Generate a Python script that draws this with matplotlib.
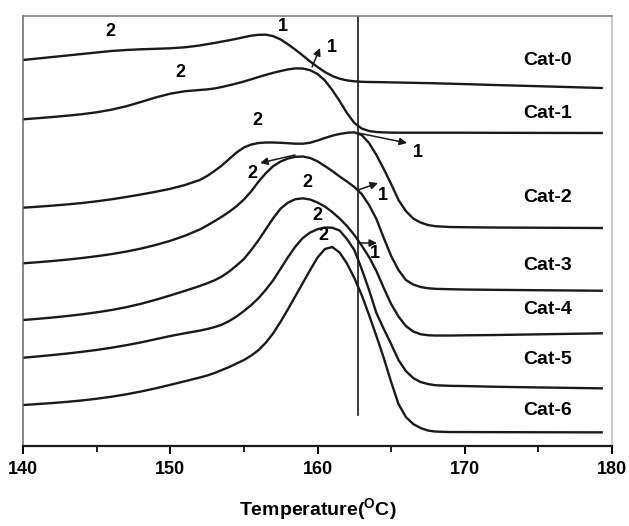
import matplotlib
matplotlib.use('Agg')
import matplotlib.pyplot as plt
from matplotlib.ticker import MultipleLocator

plt.rcParams['font.family'] = ['Liberation Sans', 'DejaVu Sans']
plt.rcParams['font.weight'] = 'bold'
plt.rcParams['mathtext.fontset'] = 'custom'
plt.rcParams['mathtext.rm'] = 'Liberation Sans:bold'
plt.rcParams['mathtext.bf'] = 'Liberation Sans:bold'

# temperature grid (deg C)
temp = [140, 141, 142, 143, 144, 145, 146, 147, 148, 149, 150, 151,
        152, 152.5, 153, 153.5, 154, 154.5, 155, 155.5, 156, 156.5, 157, 157.5,
        158, 158.5, 159, 159.5, 160, 160.5, 161, 161.5, 162, 162.5, 163, 163.5,
        164, 164.5, 165, 165.5, 166, 166.5, 167, 167.5, 168,
        169, 170, 172, 175, 179.3]

# heat flow (arbitrary units, curves stacked)
cat0 = [386, 387.5, 389, 390.5, 392, 393.5, 395, 396, 396.7, 397.2, 397.7, 398.7,
        400.5, 401.8, 403, 404.4, 405.7, 407.2, 408.8, 410.3, 411.2, 411.3, 409.8, 406.5,
        401.6, 396.3, 390.5, 384.5, 379, 374, 370, 367.3, 365.6, 364.7, 364.2, 364,
        363.9, 363.8, 363.6, 363.5, 363.3, 363.2, 363, 362.9, 362.7,
        362.3, 361.9, 361, 359.8, 358]
cat1 = [326.7, 327.8, 329, 330.3, 331.8, 333.7, 336.3, 339.7, 344, 348.5, 352.3, 354.8,
        356, 356.6, 357.5, 359, 360.7, 362.5, 364.5, 366.7, 369, 371.2, 373.2, 375,
        376.6, 377.6, 377.5, 375.8, 372, 365.5, 356, 345, 333, 323, 317.5, 315,
        314, 313.6, 313.4, 313.3, 313.3, 313.3, 313.3, 313.3, 313.3,
        313.3, 313.3, 313.2, 313.1, 313]
cat2 = [238.3, 239.3, 240.4, 241.6, 243, 244.7, 246.7, 249, 251.5, 254.2, 257.2, 261,
        266, 270, 275, 280.5, 287, 293.5, 298.5, 301.5, 303, 303.5, 303.5, 303.2,
        302.8, 302.3, 302.3, 303.3, 305.5, 308, 310.3, 312, 313.2, 313.7, 311, 303,
        291, 277, 262, 246, 235, 227.5, 223.5, 221, 219.8,
        219, 218.8, 218.5, 218.3, 218]
cat3 = [182.7, 183.8, 185, 186.4, 188, 189.8, 191.9, 194.4, 197.4, 201, 205.2, 210.3,
        216.5, 220.5, 224.8, 229.3, 234.2, 239.8, 246.5, 254.7, 264.5, 273, 280, 284.5,
        287.5, 289.2, 289.5, 288, 284.7, 280, 275, 269.5, 264.5, 259, 252, 241,
        227, 208, 190, 176, 166, 161.5, 159, 157.8, 157.2,
        156.8, 156.5, 156.2, 155.8, 155.3]
cat4 = [126, 127.2, 128.5, 130, 131.7, 133.7, 136, 138.8, 142.2, 146.2, 150.6, 155.2,
        160, 162.7, 165.7, 169.5, 174.5, 180.5, 187, 196, 206, 217, 228, 237.5,
        243.5, 246.8, 247.7, 246.5, 243.5, 239.5, 234, 227.5, 220, 211, 200.5, 189,
        175, 158, 142, 129.5, 120, 114.5, 111.8, 110.8, 110.5,
        110.5, 110.7, 111, 111.7, 112.7]
cat5 = [88.3, 89.6, 91, 92.5, 94.2, 96.1, 98.3, 100.8, 103.6, 106.8, 110, 112.8,
        115.4, 117, 118.9, 121.3, 125, 129.5, 135, 141, 148, 156.5, 166, 177.5,
        189, 199.5, 208, 213.5, 216.8, 218.5, 218.3, 215.5, 207, 196, 177, 156,
        133, 117, 102, 86, 75, 68, 64, 62, 60.8,
        60.2, 60, 59.3, 58.6, 57.7]
cat6 = [41, 42, 43, 44.2, 45.6, 47.3, 49.3, 51.7, 54.5, 57.7, 61.2, 64.8,
        68.5, 70.5, 73, 76, 79, 82.5, 86, 90.5, 96, 103.5, 113, 124.5,
        137, 150, 163, 176, 188.5, 197, 199, 193.5, 182.5, 168, 151, 131,
        110, 88, 64, 42, 29, 22, 18, 15.5, 14.5,
        14, 14, 13.9, 13.8, 13.7]

names = ['Cat-0', 'Cat-1', 'Cat-2', 'Cat-3', 'Cat-4', 'Cat-5', 'Cat-6']
curves = [cat0, cat1, cat2, cat3, cat4, cat5, cat6]
name_y = [385, 333, 249, 181, 137, 87, 36]

fig = plt.figure(figsize=(6.29, 5.26), dpi=100)
ax = fig.add_axes([0.0366, 0.152, 0.9364, 0.8176])

for c in curves:
    ax.plot(temp, c, color='#1a1a1a', lw=1.7, solid_joinstyle='round')

# reference line
ax.plot([162.75, 162.75], [31, 430], color='#1a1a1a', lw=1.2)

for n, y in zip(names, name_y):
    ax.text(175.65, y, n, fontsize=14, fontweight='bold', ha='center', va='center')

# peak labels
def lab(x, y, s):
    ax.text(x, y, s, fontsize=13, fontweight='bold', ha='center', va='center')

def arr(x0, y0, x1, y1):
    ax.annotate('', xy=(x1, y1), xytext=(x0, y0),
                arrowprops=dict(arrowstyle='-|>', color='#1a1a1a', lw=1.1,
                                mutation_scale=11, shrinkA=0, shrinkB=0))

lab(145.9, 414, '2')
lab(157.66, 419, '1')
arr(159.63, 379, 160.17, 398)
lab(161.0, 398, '1')
lab(150.66, 373, '2')
lab(155.9, 326, '2')
arr(162.75, 313, 166.08, 303)
lab(166.83, 294, '1')
arr(158.47, 291, 156.1, 283)
lab(155.55, 273, '2')
arr(162.75, 256, 164.11, 263)
lab(164.45, 251, '1')
lab(159.29, 264, '2')
lab(159.97, 231, '2')
lab(160.37, 211, '2')
arr(162.75, 203, 164.04, 203)
lab(163.9, 193, '1')

ax.set_xlim(140, 180)
ax.set_ylim(0, 430)
ax.set_yticks([])
ax.xaxis.set_major_locator(MultipleLocator(10))
ax.xaxis.set_minor_locator(MultipleLocator(5))
ax.tick_params(axis='x', which='major', length=6, width=1.4, direction='out',
               labelsize=13, pad=5)
ax.tick_params(axis='x', which='minor', length=4, width=1.2, direction='out')
for t in ax.get_xticklabels():
    t.set_fontweight('bold')

ax.spines['bottom'].set_linewidth(1.6)
ax.spines['bottom'].set_color('#1a1a1a')
ax.spines['left'].set_color('#666666')
ax.spines['left'].set_linewidth(1.1)
ax.spines['top'].set_color('#777777')
ax.spines['top'].set_linewidth(1.1)
ax.spines['right'].set_color('#bbbbbb')
ax.spines['right'].set_linewidth(1.1)

ax.set_xlabel(r'Temperature($^{\mathregular{O}}$C)', fontsize=14, fontweight='bold', labelpad=13)

fig.savefig('out.png', dpi=100)
